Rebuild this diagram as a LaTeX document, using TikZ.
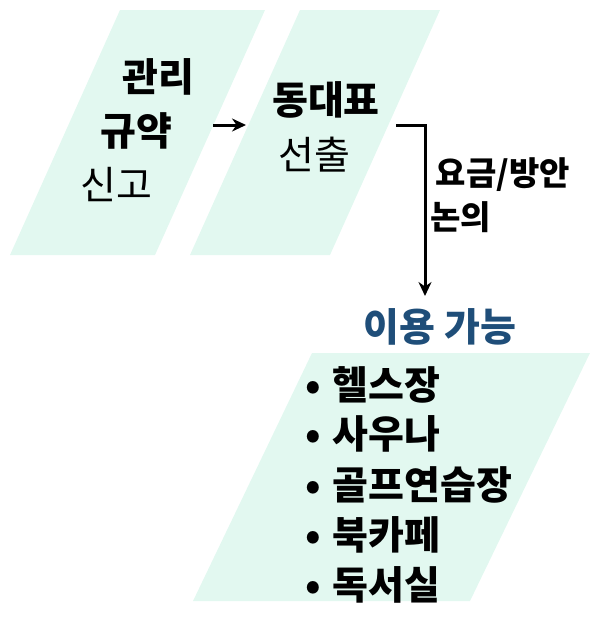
\documentclass[tikz,border=0pt]{standalone}
\usepackage{fontspec}
\setmainfont{Noto Sans CJK KR}
\newfontfamily\kr{Noto Sans CJK KR}
\usetikzlibrary{arrows.meta}
\definecolor{mint}{HTML}{E2F8F0}
\definecolor{navy}{HTML}{1F4E79}
\tikzset{
  panel/.style={fill=mint,draw=none},
  txt/.style={font=\kr\fontsize{39}{44}\selectfont,inner sep=0pt},
  bld/.style={inner sep=0pt,font=\kr\bfseries\fontsize{39}{44}\selectfont},
  conn/.style={draw=black,line width=3pt,-{Stealth[length=14pt,width=13pt]}}
}
\begin{document}
\begin{tikzpicture}[x=1pt,y=-1pt]
\useasboundingbox (0,0) rectangle (600,622);
\fill[panel] (120,10) -- (265,10) -- (155,255) -- (10,255) -- cycle;
\fill[panel] (300,10) -- (440,10) -- (330,255) -- (190,255) -- cycle;
\fill[panel] (312,353) -- (590,353) -- (470,601) -- (193,601) -- cycle;
\node[bld] (a1) at (158,77) {관리};
\node[bld] (a2) at (136,131) {규약};
\node[txt] (a3) at (116,185) {신고};
\node[bld] (b1) at (326,100) {동대표};
\node[txt] (b2) at (314,155) {선출};
\node[bld,font=\kr\bfseries\fontsize{33}{38}\selectfont] (c1) at (503,175) {요금/방안};
\node[bld,anchor=west,font=\kr\bfseries\fontsize{33}{38}\selectfont] (c2) at (430,217) {논의};
\node[bld,text=navy] (d) at (440,327) {이용 가능};
\coordinate (s) at (396,125);
\coordinate (k) at (425,125);
\coordinate (t) at (425,296);
\coordinate (p) at (213,125);
\coordinate (q) at (246,125);
\draw[conn] (p) -- (q);
\draw[conn] (s) -- (k) -- (t);
\begin{scope}[every node/.style={bld,anchor=west}]
\node (e1) at (305,385) {•\hspace{12pt}헬스장};
\node (e2) at (305,434) {•\hspace{12pt}사우나};
\node (e3) at (305,485) {•\hspace{12pt}골프연습장};
\node (e4) at (305,535) {•\hspace{12pt}북카페};
\node (e5) at (305,585) {•\hspace{12pt}독서실};
\end{scope}
\end{tikzpicture}
\end{document}
